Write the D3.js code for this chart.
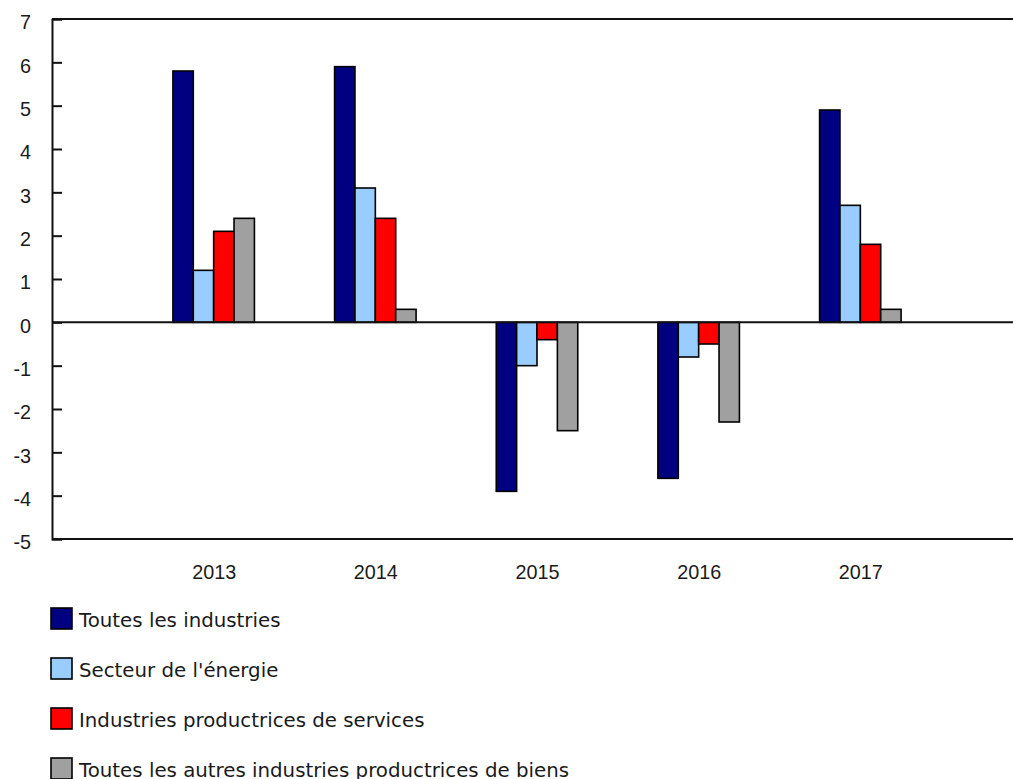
<!DOCTYPE html>
<html>
<head>
<meta charset="utf-8">
<script src="https://cdn.jsdelivr.net/npm/d3@7"></script>
<style>
  html, body { margin: 0; padding: 0; background: #fff; }
  svg { display: block; font-family: Verdana, "DejaVu Sans", sans-serif; }
</style>
</head>
<body>
<svg id="chart" width="1013" height="779"></svg>
<script>
const categories = ["2013", "2014", "2015", "2016", "2017"];
const seriesNames = [
  "Toutes les industries",
  "Secteur de l'énergie",
  "Industries productrices de services",
  "Toutes les autres industries productrices de biens"
];
const seriesColors = ["#000080", "#99ccff", "#ff0000", "#a0a0a0"];
const toutesIndustries = [5.8, 5.9, -3.9, -3.6, 4.9];
const secteurEnergie = [1.2, 3.1, -1.0, -0.8, 2.7];
const industriesServices = [2.1, 2.4, -0.4, -0.5, 1.8];
const autresBiens = [2.4, 0.3, -2.5, -2.3, 0.3];
const yTicks = [-5, -4, -3, -2, -1, 0, 1, 2, 3, 4, 5, 6, 7];

const seriesValues = [toutesIndustries, secteurEnergie, industriesServices, autresBiens];

const svg = d3.select("#chart");
const plotLeft = 52, plotRight = 1022, plotTop = 19, plotBottom = 539;
const fontSize = "19.8px";
const textColor = "#1a1a1a";

const y = d3.scaleLinear().domain([-5, 7]).range([plotBottom, plotTop]);
const x = d3.scalePoint().domain(categories).range([plotLeft, plotRight]).padding(1);
const inner = d3.scaleBand().domain(d3.range(seriesNames.length)).range([-40.75, 40.75]);

// bars
const groups = svg.append("g").selectAll("g")
  .data(categories)
  .join("g")
  .attr("transform", d => `translate(${x(d)},0)`);

groups.selectAll("rect")
  .data((c, ci) => seriesValues.map((vals, si) => ({ si, v: vals[ci] })))
  .join("rect")
  .attr("x", d => inner(d.si))
  .attr("width", inner.bandwidth())
  .attr("y", d => y(Math.max(0, d.v)))
  .attr("height", d => Math.abs(y(d.v) - y(0)))
  .attr("fill", d => seriesColors[d.si])
  .attr("stroke", "#000")
  .attr("stroke-width", 1.6);

// frame lines
const axisColor = "#111";
[7, -5, 0].forEach(v => {
  svg.append("line").attr("x1", plotLeft).attr("x2", 1013).attr("y1", y(v)).attr("y2", y(v))
    .attr("stroke", axisColor).attr("stroke-width", 2);
});

// y axis
const yAxis = d3.axisRight(y).tickValues(yTicks).tickSize(10).tickFormat(d => String(d));
const gy = svg.append("g").attr("transform", `translate(${plotLeft},0)`).call(yAxis);
gy.select(".domain").attr("stroke", axisColor).attr("stroke-width", 2);
gy.selectAll(".tick line").attr("stroke", axisColor).attr("stroke-width", 2);
gy.selectAll(".tick text")
  .attr("x", -21)
  .attr("dy", "0.5em")
  .attr("text-anchor", "end")
  .attr("fill", textColor)
  .style("font-size", fontSize);

// x labels
const xAxis = d3.axisBottom(x).tickSize(0).tickPadding(0);
const gx = svg.append("g").attr("transform", `translate(0,${plotBottom})`).call(xAxis);
gx.select(".domain").remove();
gx.selectAll(".tick text")
  .attr("y", 40)
  .attr("dy", 0)
  .attr("fill", textColor)
  .style("font-size", fontSize);

// legend
const legend = svg.append("g").selectAll("g")
  .data(seriesNames)
  .join("g")
  .attr("transform", (d, i) => `translate(51,${608 + i * 50})`);
legend.append("rect")
  .attr("width", 21).attr("height", 21)
  .attr("fill", (d, i) => seriesColors[i])
  .attr("stroke", "#000").attr("stroke-width", 1.6);
legend.append("text")
  .attr("x", 28).attr("y", 18.5)
  .attr("fill", textColor)
  .style("font-size", fontSize)
  .text(d => d);
</script>
</body>
</html>
